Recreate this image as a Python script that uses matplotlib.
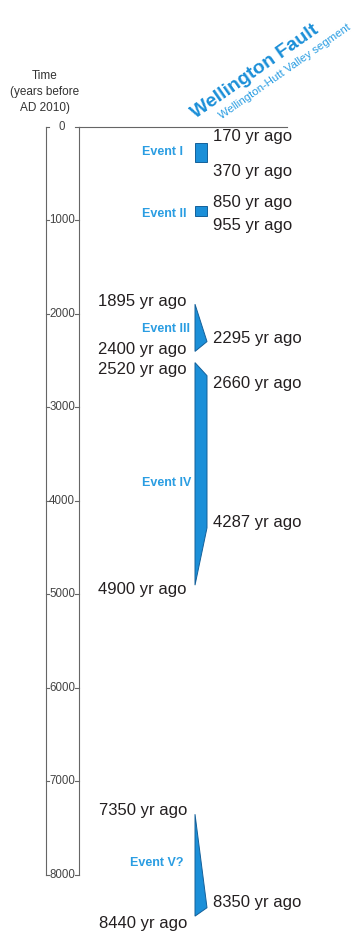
import numpy as np
import matplotlib.pyplot as plt
from matplotlib.patches import Polygon

plt.rcParams["font.family"] = ["Liberation Sans", "DejaVu Sans"]

# %% Data: paleo-earthquake events, years before AD 2010
event_names = ["Event I", "Event II", "Event III", "Event IV", "Event V?"]
left_top = [170, 850, 1895, 2520, 7350]
left_bottom = [370, 955, 2400, 4900, 8440]
right_top = [170, 850, 2295, 2660, 8350]
right_bottom = [370, 955, 2295, 4287, 8350]
event_label_year = [267, 930, 2160, 3807, 7872]

age_years = [170, 370, 850, 955, 1895, 2295, 2400, 2520, 2660, 4287, 4900, 7350, 8350, 8440]
age_side = ["R", "R", "R", "R", "L", "R", "L", "L", "R", "R", "L", "L", "R", "L"]
# small vertical nudges (pixels, down positive) so labels don't collide
age_nudge = [-6, 10, -3.5, 9, -2.5, -3.5, -2, 7, 8, -5, 4, -4, -5, 7]

scale_ticks = [0, 1000, 2000, 3000, 4000, 5000, 6000, 7000, 8000]

# %% Layout
px_per_year = 0.0935
y0_px = 127
H = 933
y_top = -y0_px / px_per_year
y_bot = (H - y0_px) / px_per_year


def px_to_year(py):
    return (py - y0_px) / px_per_year


blue = "#1b8fd8"
edge = "#14609a"
text_blue = "#2a9de2"
grey = "#666666"
dark = "#231f20"

fig = plt.figure(figsize=(3.6, 9.33), dpi=100)
ax = fig.add_axes([0, 0, 1, 1])
ax.set_xlim(0, 360)
ax.set_ylim(y_bot, y_top)
ax.axis("off")

# %% Time scale bar
xl, xr = 45.5, 78.5
ax.plot([xl, xl], [0, 8000], color=grey, lw=0.8)
ax.plot([xr, xr], [0, 8000], color=grey, lw=0.8)
ax.plot([xr, 287], [0, 0], color=grey, lw=0.8)
for t in scale_ticks:
    ax.plot([xl, xl + 3.5], [t, t], color=grey, lw=0.8)
    ax.plot([xr - 3.5, xr], [t, t], color=grey, lw=0.8)
    ax.text((xl + xr) / 2, t, f"{t}", ha="center", va="center",
            fontsize=8.3, color="#444444")

ax.text(45, px_to_year(92), "Time\n(years before\nAD 2010)", ha="center",
        va="center", fontsize=8.5, color="#333333", linespacing=1.4)

# %% Event polygons
x_left, x_right = 195, 207
for i in range(len(event_names)):
    pts = [(x_left, left_top[i]), (x_right, right_top[i]),
           (x_right, right_bottom[i]), (x_left, left_bottom[i])]
    ax.add_patch(Polygon(pts, closed=True, facecolor=blue,
                         edgecolor=edge, lw=0.7))

event_label_x = [142, 142, 142, 142, 130]
for name, yr, xx in zip(event_names, event_label_year, event_label_x):
    ax.text(xx, yr, name, ha="left", va="center", fontsize=9,
            fontweight="bold", color=text_blue)

# %% Age labels
for yr, side, nudge in zip(age_years, age_side, age_nudge):
    if side == "L":
        xx, ha = 187, "right"
    else:
        xx, ha = 213, "left"
    ax.annotate(f"{yr} yr ago", xy=(xx, yr), xytext=(0, -nudge),
                textcoords="offset pixels", ha=ha, va="center",
                fontsize=12, color=dark)

# %% Title
ax.text(196, px_to_year(119), "Wellington Fault", rotation=35,
        rotation_mode="anchor", ha="left", va="baseline", fontsize=14,
        fontweight="bold", color=blue)
ax.text(222, px_to_year(119), "Wellington-Hutt Valley segment",
        rotation=35, rotation_mode="anchor", ha="left", va="baseline",
        fontsize=8.2, color=text_blue)

fig.savefig("out.png", dpi=100)
